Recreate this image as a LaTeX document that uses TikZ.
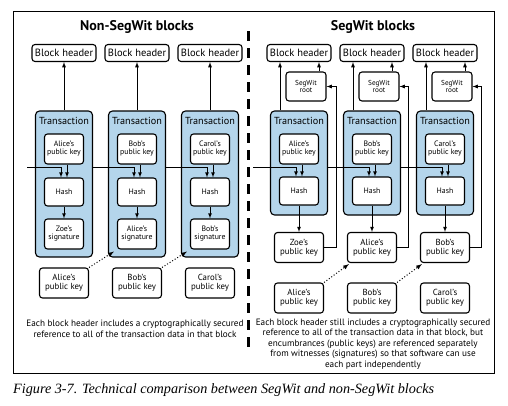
\documentclass[tikz,border=0pt]{standalone}
\usepackage{fontspec}
\setmainfont{PT Sans}
\newfontfamily\figfont{Liberation Serif}
\usetikzlibrary{arrows}
\definecolor{txblue}{RGB}{180,213,235}
\tikzset{
    box/.style={draw, fill=white, rounded corners=3pt, line width=1.1pt, align=center, inner sep=1pt},
    hdrbox/.style={box, minimum width=64pt, minimum height=17pt, font=\fontsize{10.5}{11}\selectfont},
    keybox/.style={box, minimum width=39pt, minimum height=30pt, font=\fontsize{7.8}{8}\selectfont},
    rootbox/.style={keybox, minimum width=40pt, minimum height=29pt, font=\fontsize{7.2}{7.4}\selectfont},
    wbox/.style={box, minimum width=49pt, minimum height=30pt, font=\fontsize{8.8}{9}\selectfont},
    txbox/.style={draw, fill=txblue, rounded corners=4pt, line width=1.1pt, minimum width=57pt},
    txlabel/.style={font=\fontsize{10.2}{11}\selectfont, inner sep=0pt},
    captxt/.style={align=center, font=\fontsize{9.2}{10.5}\selectfont},
    arr/.style={-latex, line width=0.8pt},
    dotarr/.style={-latex, line width=1pt, dotted},
}
\begin{document}
\begin{tikzpicture}[x=1pt, y=-1pt]
    \useasboundingbox (0,0) rectangle (508,405);
    \draw[line width=0.9pt] (13,11) rectangle (494,373);
    \draw[line width=3pt, dash pattern=on 10pt off 7pt] (248,31) -- (248,350);

    % non-segwit side
    \node[font=\fontsize{14}{15}\selectfont\bfseries] (ttlA) at (137,27) {Non-SegWit blocks};

    \node[hdrbox] (hdrA1) at (64,53) {Block header};
    \node[hdrbox] (hdrA2) at (137,53) {Block header};
    \node[hdrbox] (hdrA3) at (210,53) {Block header};

    \node[txbox, minimum height=146pt] (txA1) at (64,184) {};
    \node[txbox, minimum height=146pt] (txA2) at (137,184) {};
    \node[txbox, minimum height=146pt] (txA3) at (210,184) {};
    \node[txlabel] (tlA1) at (64,121) {Transaction};
    \node[txlabel] (tlA2) at (137,121) {Transaction};
    \node[txlabel] (tlA3) at (210,121) {Transaction};

    \node[keybox] (pkA1) at (64,149) {Alice's\\public key};
    \node[keybox] (pkA2) at (137,149) {Bob's\\public key};
    \node[keybox] (pkA3) at (210,149) {Carol's\\public key};
    \node[keybox, minimum height=28pt] (hashA1) at (64,192) {Hash};
    \node[keybox, minimum height=28pt] (hashA2) at (137,192) {Hash};
    \node[keybox, minimum height=28pt] (hashA3) at (210,192) {Hash};
    \node[keybox] (sigA1) at (64,234) {Zoe's\\signature};
    \node[keybox] (sigA2) at (137,234) {Alice's\\signature};
    \node[keybox] (sigA3) at (210,234) {Bob's\\signature};

    \node[wbox] (opkA1) at (64,283) {Alice's\\public key};
    \node[wbox] (opkA2) at (137,283) {Bob's\\public key};
    \node[wbox] (opkA3) at (210,283) {Carol's\\public key};

    \node[captxt] (capA) at (135,329) {Each block header includes a cryptographically secured\\reference to all of the transaction data in that block};

    % arrows
    \draw[arr] (txA1.north) -- (hdrA1.south);
    \draw[arr] (txA2.north) -- (hdrA2.south);
    \draw[arr] (txA3.north) -- (hdrA3.south);
    \draw[arr] ([xshift=3pt]pkA1.south) -- ([xshift=3pt]hashA1.north);
    \draw[arr] ([xshift=3pt]pkA2.south) -- ([xshift=3pt]hashA2.north);
    \draw[arr] ([xshift=3pt]pkA3.south) -- ([xshift=3pt]hashA3.north);
    \coordinate (inA) at (27,167);
    \draw[arr] (inA) -| ([xshift=-3pt]hashA1.north);
    \draw[arr] (txA1.east |- inA) -| ([xshift=-3pt]hashA2.north);
    \draw[arr] (txA2.east |- inA) -| ([xshift=-3pt]hashA3.north);
    \draw[arr] (hashA1) -- (sigA1);
    \draw[arr] (hashA2) -- (sigA2);
    \draw[arr] (hashA3) -- (sigA3);
    \draw[dotarr] (opkA1.north east) -- ([shift={(6pt,6pt)}]txA2.south west);
    \draw[dotarr] (opkA2.north east) -- ([shift={(6pt,6pt)}]txA3.south west);

    % segwit side
    \node[font=\fontsize{14}{15}\selectfont\bfseries] (ttlB) at (373,27) {SegWit blocks};

    \node[hdrbox] (hdrB1) at (299,53) {Block header};
    \node[hdrbox] (hdrB2) at (372,53) {Block header};
    \node[hdrbox] (hdrB3) at (445,53) {Block header};
    \node[rootbox] (rtB1) at (306,86.5) {SegWit\\root};
    \node[rootbox] (rtB2) at (379,86.5) {SegWit\\root};
    \node[rootbox] (rtB3) at (452,86.5) {SegWit\\root};

    \node[txbox, minimum height=104pt] (txB1) at (299,163) {};
    \node[txbox, minimum height=104pt] (txB2) at (372,163) {};
    \node[txbox, minimum height=104pt] (txB3) at (445,163) {};
    \node[txlabel] (tlB1) at (299,121) {Transaction};
    \node[txlabel] (tlB2) at (372,121) {Transaction};
    \node[txlabel] (tlB3) at (445,121) {Transaction};

    \node[keybox] (pkB1) at (299,149) {Alice's\\public key};
    \node[keybox] (pkB2) at (372,149) {Bob's\\public key};
    \node[keybox] (pkB3) at (445,149) {Carol's\\public key};
    \node[keybox, minimum height=28pt] (hashB1) at (299,191) {Hash};
    \node[keybox, minimum height=28pt] (hashB2) at (372,191) {Hash};
    \node[keybox, minimum height=28pt] (hashB3) at (445,191) {Hash};

    \node[wbox] (wB1) at (299,247.5) {Zoe's\\public key};
    \node[wbox] (wB2) at (372,247.5) {Alice's\\public key};
    \node[wbox] (wB3) at (445,247.5) {Bob's\\public key};
    \node[wbox] (opkB1) at (299,298) {Alice's\\public key};
    \node[wbox] (opkB2) at (372,298) {Bob's\\public key};
    \node[wbox] (opkB3) at (445,298) {Carol's\\public key};

    \node[captxt] (capB) at (373,344) {Each block header still includes a cryptographically secured\\reference to all of the transaction data in that block, but\\encumbrances (public keys) are referenced separately\\from witnesses (signatures) so that software can use\\each part independently};

    % arrows
    \draw[arr] ([xshift=-19pt]txB1.north) -- ([xshift=-19pt]hdrB1.south);
    \draw[arr] ([xshift=-19pt]txB2.north) -- ([xshift=-19pt]hdrB2.south);
    \draw[arr] ([xshift=-19pt]txB3.north) -- ([xshift=-19pt]hdrB3.south);
    \draw[arr] ([xshift=13pt]rtB1.north) -- ([xshift=20pt]hdrB1.south);
    \draw[arr] ([xshift=13pt]rtB2.north) -- ([xshift=20pt]hdrB2.south);
    \draw[arr] ([xshift=13pt]rtB3.north) -- ([xshift=20pt]hdrB3.south);
    \draw[arr] ([xshift=3pt]pkB1.south) -- ([xshift=3pt]hashB1.north);
    \draw[arr] ([xshift=3pt]pkB2.south) -- ([xshift=3pt]hashB2.north);
    \draw[arr] ([xshift=3pt]pkB3.south) -- ([xshift=3pt]hashB3.north);
    \coordinate (inB) at (253,167);
    \draw[arr] (inB) -| ([xshift=-3pt]hashB1.north);
    \draw[arr] (txB1.east |- inB) -| ([xshift=-3pt]hashB2.north);
    \draw[arr] (txB2.east |- inB) -| ([xshift=-3pt]hashB3.north);
    \draw[arr] (hashB1) -- (wB1);
    \draw[arr] (hashB2) -- (wB2);
    \draw[arr] (hashB3) -- (wB3);
    \draw[arr] (wB1.east) -- ++(12,0) |- (rtB1.east);
    \draw[arr] (wB2.east) -- ++(11,0) |- (rtB2.east);
    \draw[arr] (wB3.east) -- ++(11,0) |- (rtB3.east);
    \draw[dotarr] (opkB1.north east) -- ([shift={(2pt,-1pt)}]wB2.south west);
    \draw[dotarr] (opkB2.north east) -- ([shift={(2pt,-1pt)}]wB3.south west);

    \node[anchor=west, inner sep=0pt, font=\figfont\itshape\fontsize{14.2}{15}\selectfont] (fig) at (13,390) {Figure 3-7. Technical comparison between SegWit and non-SegWit blocks};
\end{tikzpicture}
\end{document}
